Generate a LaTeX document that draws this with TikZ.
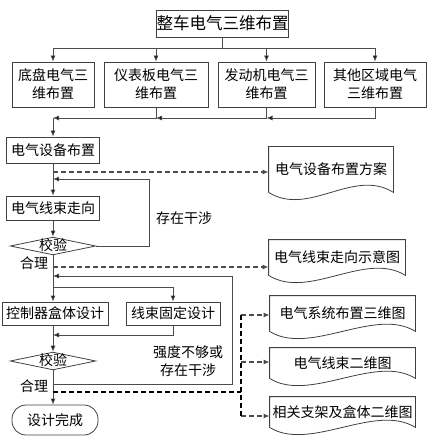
\documentclass[tikz,border=0pt]{standalone}
\usepackage{fontspec}
\newfontfamily\cjk{Noto Sans CJK SC}
\usetikzlibrary{arrows.meta,shapes.geometric}
\begin{document}
\begin{tikzpicture}[x=1pt,y=-1pt,line width=0.8pt,
  font=\cjk\fontsize{14}{18}\selectfont,
  box/.style={draw=black!75,align=center,inner sep=0pt},
  check/.style={draw=black!75,diamond,aspect=4.8,inner sep=0pt,text height=10pt,text depth=2pt},
  doc/.style={inner sep=0pt},
  arr/.style={draw=black!70,-{Latex[length=6pt,width=5pt,fill=black]}},
  dashline/.style={line width=1.6pt,dash pattern=on 5pt off 3pt}]
\useasboundingbox (0,0) rectangle (437,446);
\node[box,minimum width=131,minimum height=27,font=\cjk\fontsize{16.5}{18}\selectfont] (top) at (222.5,23.5) {整车电气三维布置};
\foreach \n/\x/\w/\t in {b1/53/82/{底盘电气三\\维布置},b2/156/104/{仪表板电气三\\维布置},
  b3/266.5/97/{发动机电气三\\维布置},b4/375/102/{其他区域电气\\三维布置}}
  \node[box,minimum width=\w,minimum height=45] (\n) at (\x,84.5) {\t};
\coordinate (up) at (0,48);
\coordinate (low) at (0,118);
\draw[black!70] (top.south) -- (top.south |- up);
\draw[black!70] (b1 |- up) -- (b4 |- up);
\foreach \n in {b1,b2,b3,b4}
  \draw[arr] (\n |- up) -- (\n.north);
\foreach \a/\b in {b4/b3,b3/b2,b2/b1}
  \draw[arr] (\a.south) |- (\b |- low);
\node[box,minimum width=93,minimum height=26] (eq) at (53,150) {电气设备布置};
\node[box,minimum width=93,minimum height=24] (wire) at (53,208) {电气线束走向};
\node[check] (chk1) at (53,246) {校验};
\node[box,minimum width=106,minimum height=23] (ctrl) at (55,313.5) {控制器盒体设计};
\node[box,minimum width=94,minimum height=23] (fix) at (173,313.5) {线束固定设计};
\node[check] (chk2) at (53,361) {校验};
\node[box,rounded corners=14pt,minimum width=86,minimum height=30] (done) at (55,420) {设计完成};
\node (ok1) at (34,263) {合理};
\node (ok2) at (34,386) {合理};
\node (clash) at (184,218) {存在干涉};
\node[align=center] (weak) at (188,361) {强度不够或\\存在干涉};
\foreach \n/\x/\y/\w/\h/\t in {d1/331/169.5/124/45/电气设备布置方案,d2/337/257.5/136/35/电气线束走向示意图,
  d3/342.5/313.5/145/35/电气系统布置三维图,d4/342.5/363/145/30/电气线束二维图,d5/342.5/412/145/30/相关支架及盒体二维图}
{
  \node[doc,minimum width=\w,minimum height=\h] (\n) at (\x,\y) {\t};
  \draw[black!75] (\n.south west) -- (\n.north west) -- (\n.north east) -- (\n.south east)
    .. controls +(-40,-25) and +(40,25) .. (\n.south west);
}
\draw[arr] (b1 |- low) -- (eq.north);
\draw[arr] (eq) -- (wire);
\draw[arr] (wire) -- (chk1);
\coordinate (out1) at (53,172);
\coordinate (back1) at (149,179);
\coordinate (in1) at (53,179);
\draw[dashline,arr] (out1) -- (out1 -| d1.west);
\draw[arr] (chk1.east) -| (back1) -- (in1);
\coordinate (out2) at (53,267);
\coordinate (in2) at (53,276);
\coordinate (split) at (53,287);
\coordinate (loop2) at (53,384);
\coordinate (turn2) at (232,276);
\coordinate (in3) at (53,335);
\draw[dashline,arr] (out2) -- (out2 -| d2.west);
\draw[arr] (chk1.south) -- (ctrl.north -| chk1.south);
\draw[arr] (loop2) -| (turn2) -- (in2);
\draw[arr] (split) -| (fix.north);
\draw[arr] (fix.south) |- (in3);
\draw[arr] (ctrl.south -| chk2) -- (chk2.north);
\draw[arr] (chk2.south) -- (chk2.south |- done.north);
\coordinate (out3) at (53,392);
\foreach \n/\y in {d3/315,d4/362,d5/416}
{
  \coordinate (t\n) at (241,\y);
  \draw[dashline,arr] (t\n) -- (t\n -| \n.west);
}
\draw[dashline] (td3) -- (td5);
\draw[dashline] (out3) -- (out3 -| td3);
\end{tikzpicture}
\end{document}
